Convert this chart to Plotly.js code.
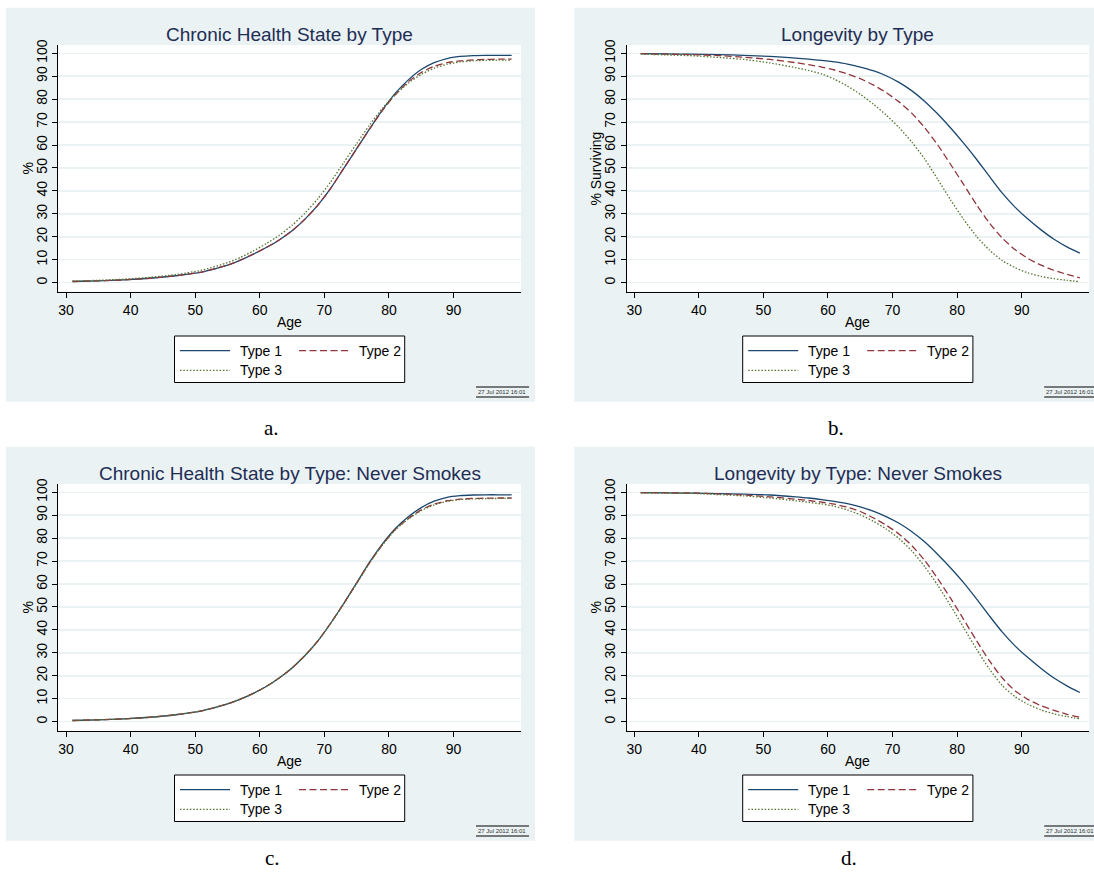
<!DOCTYPE html>
<html><head><meta charset="utf-8">
<script src="https://cdn.plot.ly/plotly-3.0.1.min.js"></script>
<style>html,body{margin:0;padding:0;background:#fff;} #chart{width:1094px;height:874px;}</style>
</head><body><div id="chart"></div>
<script>
// ---------- data ----------
const ages = [31, 35, 39, 43, 47, 51, 55, 57, 59, 61, 63, 65, 67, 69, 71, 73, 75, 77, 79, 81, 83, 85, 87, 89, 91, 93, 95, 97, 99];

// a. Chronic Health State by Type
const chronicType1 = [0.5, 0.8, 1.2, 1.9, 3.0, 4.6, 7.6, 9.8, 12.4, 15.3, 18.6, 22.6, 27.7, 33.8, 41.2, 49.8, 58.4, 67.0, 75.3, 82.6, 88.4, 92.9, 95.9, 97.7, 98.6, 99.0, 99.1, 99.1, 99.1];
const chronicType2 = [0.5, 0.8, 1.2, 1.9, 3.0, 4.6, 7.6, 9.8, 12.4, 15.3, 18.6, 22.6, 27.7, 33.8, 41.2, 49.8, 58.4, 67.0, 75.1, 82.0, 87.6, 91.6, 94.3, 95.9, 96.7, 97.1, 97.3, 97.4, 97.4];
const chronicType3 = [0.7, 1.0, 1.5, 2.3, 3.5, 5.4, 8.7, 11.0, 13.8, 17.0, 20.6, 25.0, 30.3, 36.6, 44.0, 52.3, 60.6, 68.7, 76.0, 82.0, 87.0, 90.8, 93.5, 95.2, 96.2, 96.7, 96.9, 97.0, 97.0];

// c. Chronic Health State by Type: Never Smokes
const chronicNS1 = [0.5, 0.8, 1.2, 1.9, 3.0, 4.7, 7.7, 9.8, 12.3, 15.3, 19.0, 23.4, 28.8, 35.2, 43.0, 51.5, 60.5, 69.5, 77.5, 84.2, 89.3, 93.3, 96.1, 97.8, 98.5, 98.8, 98.9, 98.9, 98.9];
const chronicNS2 = [0.5, 0.8, 1.2, 1.9, 3.0, 4.7, 7.7, 9.8, 12.3, 15.3, 19.0, 23.4, 28.8, 35.2, 43.0, 51.5, 60.4, 69.3, 77.2, 83.8, 88.6, 92.3, 94.8, 96.3, 97.0, 97.3, 97.4, 97.5, 97.5];
const chronicNS3 = [0.5, 0.8, 1.2, 1.9, 3.0, 4.7, 7.7, 9.8, 12.3, 15.3, 19.0, 23.4, 28.8, 35.2, 42.9, 51.3, 60.2, 69.1, 77.0, 83.6, 88.3, 92.0, 94.5, 96.0, 96.8, 97.1, 97.2, 97.3, 97.3];

// b. Longevity by Type (% surviving)
const longType1 = [99.8, 99.7, 99.6, 99.4, 99.1, 98.6, 97.9, 97.4, 96.9, 96.2, 95.3, 94.0, 92.4, 90.2, 87.3, 83.6, 79.0, 73.5, 67.4, 60.8, 53.8, 46.3, 39.0, 32.8, 27.6, 23.0, 18.9, 15.6, 12.9];
const longType2 = [99.8, 99.6, 99.4, 99.0, 98.3, 97.3, 95.9, 95.0, 94.0, 92.7, 91.0, 88.9, 86.2, 82.9, 78.8, 73.8, 67.5, 60.0, 51.5, 42.8, 34.0, 26.0, 19.4, 14.3, 10.5, 7.6, 5.4, 3.6, 2.1];
const longType3 = [99.6, 99.3, 98.9, 98.2, 97.3, 95.8, 93.7, 92.5, 91.0, 88.7, 85.7, 82.1, 77.9, 73.1, 67.6, 61.2, 53.8, 45.0, 36.0, 27.6, 20.2, 14.2, 9.6, 6.5, 4.2, 2.7, 1.7, 1.0, 0.4];

// d. Longevity by Type: Never Smokes
const longNS1 = [99.8, 99.7, 99.6, 99.4, 99.2, 98.8, 98.0, 97.5, 96.8, 96.0, 95.0, 93.6, 91.8, 89.4, 86.5, 82.8, 78.3, 72.9, 67.0, 60.6, 53.5, 46.1, 39.0, 32.9, 27.8, 23.2, 19.0, 15.6, 12.7];
const longNS2 = [99.8, 99.8, 99.7, 99.3, 98.8, 98.0, 97.0, 96.4, 95.7, 94.8, 93.5, 91.6, 88.9, 85.7, 81.8, 76.7, 70.2, 62.3, 53.7, 44.6, 35.3, 26.5, 19.0, 13.4, 9.6, 6.9, 4.9, 3.2, 1.9];
const longNS3 = [99.7, 99.6, 99.5, 99.0, 98.4, 97.5, 96.3, 95.6, 94.9, 93.9, 92.3, 90.2, 87.4, 84.0, 79.8, 74.4, 67.5, 59.4, 50.5, 41.0, 31.6, 22.9, 15.7, 10.8, 7.5, 5.1, 3.4, 2.2, 1.2];

const seriesNames = ['Type 1', 'Type 2', 'Type 3'];
const xTicks = [30, 40, 50, 60, 70, 80, 90];
const yTicks = [0, 10, 20, 30, 40, 50, 60, 70, 80, 90, 100];
const panelTitles = ['Chronic Health State by Type', 'Longevity by Type', 'Chronic Health State by Type: Never Smokes', 'Longevity by Type: Never Smokes'];
const yTitles = ['%', '% Surviving', '%', '%'];
const captions = ['a.', 'b.', 'c.', 'd.'];
const stampText = '27 Jul 2012 16:01';

// ---------- styling / geometry ----------
const W = 1094, H = 874;
const px = x => x / W, py = y => 1 - y / H;
const colors = ['#1a476f', '#90353b', '#55752f'];
const dashes = ['solid', '7px,3.5px', '1.5px,1.8px'];
const BG = '#eaf2f3';
const SANS = 'Liberation Sans, Arial, Helvetica, sans-serif';
const SERIF = 'Liberation Serif, DejaVu Serif, serif';

const panels = [
  {s: [chronicType1, chronicType2, chronicType3], dx: 0, dy: 0, cap: [271, 428]},
  {s: [longType1, longType2, longType3], dx: 568.2, dy: 0, cap: [836, 428]},
  {s: [chronicNS1, chronicNS2, chronicNS3], dx: 0, dy: 439, cap: [272, 858]},
  {s: [longNS1, longNS2, longNS3], dx: 568.2, dy: 439, cap: [849, 858]}
];

const data = [];
const layout = {
  width: W, height: H, margin: {l: 0, r: 0, t: 0, b: 0},
  paper_bgcolor: '#ffffff', plot_bgcolor: '#ffffff',
  showlegend: false, shapes: [], annotations: []
};

panels.forEach((p, i) => {
  const k = i === 0 ? '' : String(i + 1);
  const dx = p.dx, dy = p.dy;
  // panel background and white plot region
  layout.shapes.push({type: 'rect', xref: 'paper', yref: 'paper', layer: 'below',
    x0: px(6 + dx), x1: px(Math.min(535 + dx, W)), y0: py(401.7 + dy), y1: py(7.7 + dy),
    fillcolor: BG, line: {width: 0}});
  layout.shapes.push({type: 'rect', xref: 'paper', yref: 'paper', layer: 'below',
    x0: px(58.3 + dx), x1: px(521 + dx), y0: py(291.8 + dy), y1: py(45 + dy),
    fillcolor: '#ffffff', line: {width: 0}});
  layout['xaxis' + k] = {
    domain: [px(58.3 + dx), px(521 + dx)], anchor: 'y' + k,
    range: [28.8, 100.45], tickvals: xTicks, ticktext: xTicks.map(String),
    showgrid: false, zeroline: false, showline: true, linecolor: '#000', linewidth: 1,
    ticks: 'outside', ticklen: 5, tickcolor: '#000', tickwidth: 1,
    tickfont: {family: SANS, size: 14, color: '#000'}
  };
  layout['yaxis' + k] = {
    domain: [py(291.8 + dy), py(45 + dy)], anchor: 'x' + k,
    range: [-4.0, 103.6], tickvals: yTicks, ticktext: yTicks.map(String), tickangle: -90,
    showgrid: true, gridcolor: BG, gridwidth: 1.5, zeroline: false,
    showline: true, linecolor: '#000', linewidth: 1,
    ticks: 'outside', ticklen: 5, tickcolor: '#000', tickwidth: 1,
    tickfont: {family: SANS, size: 14, color: '#000'}
  };
  p.s.forEach((vals, j) => {
    data.push({type: 'scatter', mode: 'lines', x: ages, y: vals, name: seriesNames[j],
      xaxis: 'x' + k, yaxis: 'y' + k, hoverinfo: 'skip',
      line: {color: colors[j], width: 1.3, dash: dashes[j], shape: 'spline', smoothing: 0.6}});
  });
  const cx = 289.6 + dx;
  layout.annotations.push({xref: 'paper', yref: 'paper', x: px(cx), y: py(34.6 + dy),
    xanchor: 'center', yanchor: 'middle', showarrow: false, text: panelTitles[i],
    font: {family: SANS, size: 19, color: '#1f2d55'}});
  layout.annotations.push({xref: 'paper', yref: 'paper', x: px(cx), y: py(322 + dy),
    xanchor: 'center', yanchor: 'middle', showarrow: false, text: 'Age',
    font: {family: SANS, size: 14, color: '#000'}});
  layout.annotations.push({xref: 'paper', yref: 'paper', x: px(28 + dx), y: py(168.4 + dy),
    xanchor: 'center', yanchor: 'middle', showarrow: false, text: yTitles[i], textangle: -90,
    font: {family: SANS, size: 14, color: '#000'}});
  // legend
  layout.shapes.push({type: 'rect', xref: 'paper', yref: 'paper',
    x0: px(174.5 + dx), x1: px(404.7 + dx), y0: py(382.5 + dy), y1: py(336 + dy),
    fillcolor: '#ffffff', line: {color: '#000', width: 1}});
  const rows = [[180, 230, 350.7, 238], [299, 349, 350.7, 356.6], [180, 230, 370.3, 238]];
  rows.forEach((r, j) => {
    layout.shapes.push({type: 'line', xref: 'paper', yref: 'paper',
      x0: px(r[0] + dx), x1: px(r[1] + dx), y0: py(r[2] + dy), y1: py(r[2] + dy),
      line: {color: colors[j], width: 1.3, dash: dashes[j]}});
    layout.annotations.push({xref: 'paper', yref: 'paper', x: px(r[3] + dx), y: py(r[2] + dy),
      xanchor: 'left', yanchor: 'middle', showarrow: false, text: seriesNames[j],
      font: {family: SANS, size: 14, color: '#000'}});
  });
  // timestamp stamp
  [387, 397].forEach(yy => layout.shapes.push({type: 'line', xref: 'paper', yref: 'paper',
    x0: px(476 + dx), x1: px(Math.min(529 + dx, W)), y0: py(yy + dy), y1: py(yy + dy),
    line: {color: '#000', width: 1}}));
  layout.annotations.push({xref: 'paper', yref: 'paper', x: px(476 + dx), y: py(392 + dy),
    xanchor: 'left', yanchor: 'middle', showarrow: false, text: stampText,
    font: {family: SANS, size: 6, color: '#333'}});
  // caption
  layout.annotations.push({xref: 'paper', yref: 'paper', x: px(p.cap[0]), y: py(p.cap[1]),
    xanchor: 'center', yanchor: 'middle', showarrow: false, text: captions[i],
    font: {family: SERIF, size: 21, color: '#000'}});
});

Plotly.newPlot('chart', data, layout, {staticPlot: true, displayModeBar: false});
</script>
</body></html>
